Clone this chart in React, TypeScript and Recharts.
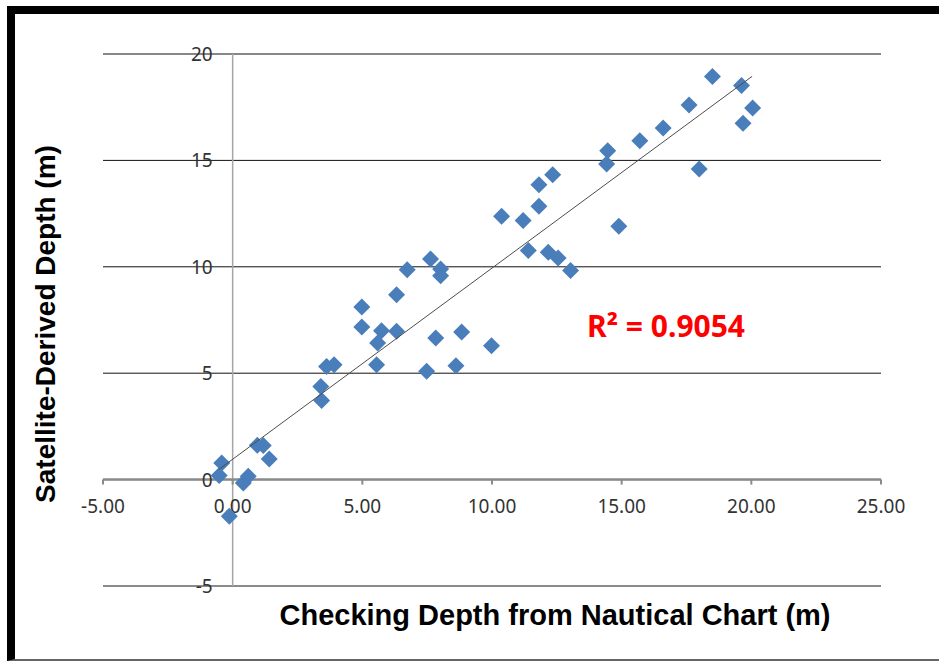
import {
  ScatterChart,
  Scatter,
  XAxis,
  YAxis,
  CartesianGrid,
  ReferenceLine,
} from "recharts";

// Checking depth from nautical chart (m)
const chartDepth = [
  -0.42, -0.52, 0.41, 0.6, -0.13, 0.95, 1.18, 1.41, 3.4, 3.43, 3.62, 3.91,
  4.98, 4.98, 5.55, 5.59, 5.74, 6.32, 6.32, 6.73, 7.63, 8.02, 8.02, 7.48,
  7.83, 8.61, 8.83, 14.89, 10.37, 11.2, 11.81, 11.81, 12.34, 11.4, 12.17,
  12.55, 13.03, 14.46, 14.42, 15.7, 16.6, 17.6, 18.5, 19.62, 20.05, 19.68,
  17.99, 9.98,
];

// Satellite-derived depth (m)
const satDepth = [
  0.78, 0.19, -0.16, 0.16, -1.72, 1.61, 1.6, 0.97, 4.38, 3.72, 5.32, 5.4,
  8.11, 7.17, 5.4, 6.42, 7.0, 8.69, 6.97, 9.86, 10.37, 9.9, 9.58, 5.09, 6.65,
  5.35, 6.94, 11.9, 12.37, 12.18, 13.86, 12.84, 14.33, 10.77, 10.68, 10.41,
  9.83, 15.45, 14.83, 15.92, 16.52, 17.6, 18.94, 18.52, 17.46, 16.75, 14.59,
  6.29,
];

// linear trendline end points
const trendX = [-0.53, 20.03];
const trendY = [0.48, 18.95];

const xTicks = [-5, 0, 5, 10, 15, 20, 25];
const yTicks = [-5, 0, 5, 10, 15, 20];

const r2Label = "R\u00B2 = 0.9054";
const r2Pos = { x: 16.71, y: 7.26 };

const points = chartDepth.map((x, i) => ({ x, y: satDepth[i] }));
const trend = trendX.map((x, i) => ({ x, y: trendY[i] }));
const xLabelPts = xTicks.map((x) => ({ x, y: 0 }));
const yLabelPts = yTicks.map((y) => ({ x: 0, y }));

const tickFont = { fontFamily: "Noto Sans", fontSize: 19, fill: "#333" };

function Diamond(props: any) {
  const { cx, cy } = props;
  const r = 8.5;
  return (
    <polygon
      points={`${cx},${cy - r} ${cx + r},${cy} ${cx},${cy + r} ${cx - r},${cy}`}
      fill="#4a7ebb"
    />
  );
}

function XLabel(props: any) {
  const { cx, cy, payload } = props;
  return (
    <g>
      <line x1={cx} y1={cy} x2={cx} y2={cy + 5} stroke="#8a8a8a" strokeWidth={2} />
      <text x={cx} y={cy + 26} textAnchor="middle" dominantBaseline="central" {...tickFont}>
        {payload.x.toFixed(2)}
      </text>
    </g>
  );
}

function YLabel(props: any) {
  const { cx, cy, payload } = props;
  return (
    <text x={cx - 20} y={cy} textAnchor="end" dominantBaseline="central" {...tickFont}>
      {payload.y}
    </text>
  );
}

function R2Text(props: any) {
  const { cx, cy } = props;
  return (
    <text
      x={cx}
      y={cy}
      textAnchor="middle"
      dominantBaseline="central"
      fontFamily="Noto Sans"
      fontWeight="bold"
      fontSize={30}
      fill="#ff0000"
    >
      {r2Label}
    </text>
  );
}

const titleStyle: React.CSSProperties = {
  position: "absolute",
  fontFamily: "'Liberation Sans', Arial, sans-serif",
  fontWeight: "bold",
  fontSize: 28,
  lineHeight: 1,
  whiteSpace: "nowrap",
  color: "#000",
};

export default function App() {
  return (
    <div
      style={{
        position: "absolute",
        left: 7,
        top: 6,
        width: 932,
        height: 655,
        boxSizing: "border-box",
        borderTop: "8px solid #000",
        borderLeft: "8px solid #000",
        borderBottom: "2px solid #666",
        background: "#fff",
      }}
    >
      <ScatterChart
        width={924}
        height={645}
        margin={{ top: 40, right: 58, bottom: 73, left: 88 }}
      >
        <CartesianGrid vertical={false} stroke="#111" strokeWidth={1} />
        <XAxis type="number" dataKey="x" domain={[-5, 25]} ticks={xTicks} hide />
        <YAxis type="number" dataKey="y" domain={[-5, 20]} ticks={yTicks} hide />
        <ReferenceLine y={-5} stroke="#8c8c8c" strokeWidth={1.5} />
        <ReferenceLine x={0} stroke="#a6a6a6" strokeWidth={1.5} />
        <ReferenceLine y={0} stroke="#8a8a8a" strokeWidth={2.5} />
        <Scatter data={yLabelPts} shape={YLabel} isAnimationActive={false} />
        <Scatter data={xLabelPts} shape={XLabel} isAnimationActive={false} />
        <Scatter data={points} shape={Diamond} isAnimationActive={false} />
        <Scatter
          data={trend}
          line={{ stroke: "#4d4d4d", strokeWidth: 1 }}
          shape={() => <g />}
          isAnimationActive={false}
        />
        <Scatter data={[r2Pos]} shape={R2Text} isAnimationActive={false} />
      </ScatterChart>
      <div
        style={{
          ...titleStyle,
          fontSize: 29,
          left: 540,
          top: 601,
          transform: "translate(-50%, -50%)",
        }}
      >
        Checking Depth from Nautical Chart (m)
      </div>
      <div
        style={{
          ...titleStyle,
          left: 31,
          top: 310,
          transform: "translate(-50%, -50%) rotate(-90deg)",
        }}
      >
        Satellite-Derived Depth (m)
      </div>
    </div>
  );
}
